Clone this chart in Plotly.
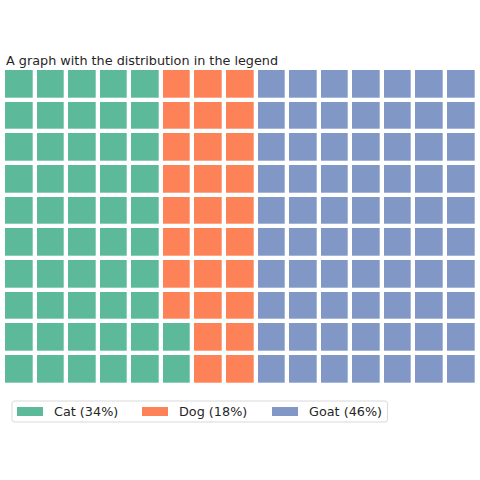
import plotly.graph_objects as go

# Data
categories = ["Cat", "Dog", "Goat"]
values = [52, 28, 70]
colors = ["#5cb99a", "#fd8258", "#8197c6"]
n_rows = 10
n_cols = 15
title_text = "A graph with the distribution in the legend"

W, H = 480, 480
def px_x(p):
    return p / W
def px_y(p):
    return 1 - p / H

# Build waffle grid: fill column by column from bottom-left
z = [[None] * n_cols for _ in range(n_rows)]
idx = 0
for ci, v in enumerate(values):
    for _ in range(v):
        col = idx // n_rows
        row = idx % n_rows
        z[row][col] = ci
        idx += 1

ncat = len(categories)
colorscale = []
for i, c in enumerate(colors):
    colorscale.append([i / ncat, c])
    colorscale.append([(i + 1) / ncat, c])

fig = go.Figure()
fig.add_trace(go.Heatmap(
    z=z,
    x=list(range(n_cols)),
    y=list(range(n_rows)),
    zmin=-0.5, zmax=ncat - 0.5,
    colorscale=colorscale,
    showscale=False,
    xgap=4.3, ygap=4.3,
    hoverinfo="skip",
))

# Manual legend (matplotlib-like)
total = sum(values)
labels = [f"{k} ({int(v / total * 100)}%)" for k, v in zip(categories, values)]
patch_x = [17, 142, 272]
patch_w = 26
shapes = []
annotations = []
# rounded frame
x0, x1, y0, y1, r = 12, 387.5, 401, 422, 2.5
fx = lambda p: px_x(p)
fy = lambda p: px_y(p)
path = (f"M {fx(x0+r)},{fy(y0)} L {fx(x1-r)},{fy(y0)} Q {fx(x1)},{fy(y0)} {fx(x1)},{fy(y0+r)} "
        f"L {fx(x1)},{fy(y1-r)} Q {fx(x1)},{fy(y1)} {fx(x1-r)},{fy(y1)} "
        f"L {fx(x0+r)},{fy(y1)} Q {fx(x0)},{fy(y1)} {fx(x0)},{fy(y1-r)} "
        f"L {fx(x0)},{fy(y0+r)} Q {fx(x0)},{fy(y0)} {fx(x0+r)},{fy(y0)} Z")
shapes.append(dict(type="path", xref="paper", yref="paper", path=path,
                   line=dict(color="#d9d9d9", width=1), fillcolor="rgba(0,0,0,0)"))
for i, lab in enumerate(labels):
    shapes.append(dict(type="rect", xref="paper", yref="paper",
                       x0=px_x(patch_x[i]), x1=px_x(patch_x[i] + patch_w),
                       y0=px_y(416), y1=px_y(407),
                       line=dict(width=0), fillcolor=colors[i]))
    annotations.append(dict(xref="paper", yref="paper",
                            x=px_x(patch_x[i] + patch_w + 8.5), y=px_y(411.5),
                            xanchor="left", yanchor="middle", showarrow=False,
                            text=lab, font=dict(family="DejaVu Sans", size=12.8, color="#262626")))

annotations.append(dict(xref="paper", yref="paper", x=px_x(3.5), y=px_y(60),
                        xanchor="left", yanchor="middle", showarrow=False,
                        text=title_text, font=dict(family="DejaVu Sans", size=12.8, color="#262626")))

fig.update_layout(
    width=W, height=H,
    margin=dict(l=0, r=0, t=0, b=0),
    paper_bgcolor="white", plot_bgcolor="white",
    xaxis=dict(range=[-0.5, n_cols - 0.5], domain=[px_x(3), px_x(476.5)],
               visible=False, fixedrange=True),
    yaxis=dict(range=[-0.5, n_rows - 0.5], domain=[px_y(384.5), px_y(68)],
               visible=False, fixedrange=True),
    shapes=shapes,
    annotations=annotations,
    showlegend=False,
)

fig.write_html("out.html", config={"displayModeBar": False},
               post_script="document.body.style.margin='0';document.body.style.overflow='hidden';")
